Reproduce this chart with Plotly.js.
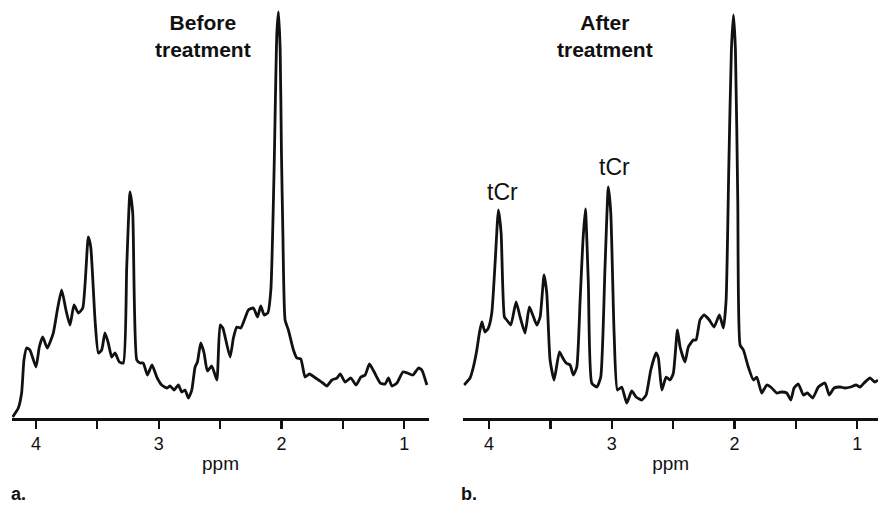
<!DOCTYPE html>
<html>
<head>
<meta charset="utf-8">
<script src="https://cdn.plot.ly/plotly-3.0.1.min.js"></script>
<style>html,body{margin:0;padding:0;background:#fff;}#chart{width:878px;height:506px;}</style>
</head>
<body>
<div id="chart"></div>
<script>
// Panel a: before treatment (chemical shift in ppm, signal in arbitrary units)
const ppmBefore = [4.190,4.144,4.117,4.098,4.076,4.049,4.000,3.973,3.945,3.908,3.859,3.826,3.791,3.756,3.723,3.690,3.655,3.619,3.574,3.554,3.519,3.492,3.465,3.438,3.411,3.383,3.356,3.321,3.289,3.261,3.234,3.212,3.179,3.152,3.126,3.093,3.055,3.016,2.976,2.935,2.908,2.875,2.840,2.813,2.786,2.759,2.731,2.704,2.685,2.658,2.631,2.604,2.568,2.527,2.500,2.478,2.419,2.392,2.364,2.332,2.297,2.270,2.229,2.196,2.169,2.142,2.112,2.087,2.060,2.050,2.038,2.025,2.011,2.001,1.989,1.971,1.944,1.903,1.875,1.843,1.808,1.773,1.734,1.699,1.663,1.631,1.590,1.549,1.522,1.482,1.435,1.392,1.354,1.319,1.284,1.245,1.196,1.156,1.129,1.101,1.060,1.011,0.974,0.930,0.884,0.857,0.816];
const signalBefore = [1,10,25,58,70,68,51,71,81,70,85,108,128,108,93,113,105,110,181,171,98,65,68,85,75,61,65,56,55,151,226,205,58,55,55,43,53,41,33,30,32,28,33,26,28,20,28,51,56,75,65,47,52,38,93,90,61,80,91,90,100,108,110,101,112,103,105,128,251,318,385,406,368,268,185,98,88,68,60,59,41,44,41,38,35,32,38,40,44,36,40,33,41,43,54,46,35,34,40,32,35,46,45,43,50,48,33];

// Panel b: after treatment
const ppmAfter = [4.204,4.155,4.128,4.100,4.079,4.059,4.033,4.006,3.978,3.951,3.924,3.902,3.875,3.856,3.823,3.780,3.747,3.707,3.672,3.644,3.611,3.584,3.552,3.530,3.503,3.470,3.427,3.399,3.372,3.340,3.313,3.285,3.258,3.236,3.215,3.191,3.163,3.122,3.090,3.055,3.028,3.008,2.981,2.954,2.919,2.878,2.837,2.802,2.756,2.720,2.682,2.639,2.620,2.592,2.557,2.525,2.498,2.465,2.443,2.403,2.376,2.335,2.313,2.281,2.248,2.205,2.166,2.123,2.090,2.068,2.046,2.025,2.008,1.992,1.973,1.954,1.927,1.887,1.846,1.818,1.778,1.737,1.696,1.655,1.615,1.574,1.541,1.514,1.479,1.438,1.406,1.362,1.316,1.262,1.227,1.188,1.139,1.099,1.052,1.009,0.976,0.944,0.895,0.855,0.830];
const signalAfter = [33,40,51,68,85,96,86,90,105,155,208,185,101,98,93,116,101,85,111,103,93,101,143,125,58,38,66,60,55,53,43,51,118,175,209,135,35,31,41,151,231,205,85,28,31,15,27,21,18,23,48,65,60,28,41,38,45,88,71,56,71,78,78,98,103,98,91,103,90,118,251,368,403,368,218,73,68,51,38,41,25,33,30,25,26,25,18,30,34,23,25,20,31,35,23,30,31,30,31,33,31,35,40,36,38];

const tickValues = [4, 3.5, 3, 2.5, 2, 1.5, 1];
const tickLabels = ['4', '', '3', '', '2', '', '1'];
const panelTitles = ['Before<br>treatment', 'After<br>treatment'];
const peakLabel = 'tCr';
const panelLetters = ['a.', 'b.'];
const axisTitle = 'ppm';

const FONT = 'Liberation Sans, Arial, Helvetica, sans-serif';
const lineStyle = {color: '#111111', width: 2.8, shape: 'spline', smoothing: 0.5};

const traces = [
  {x: ppmBefore, y: signalBefore, xaxis: 'x', yaxis: 'y', type: 'scatter', mode: 'lines', line: lineStyle, hoverinfo: 'skip'},
  {x: ppmAfter, y: signalAfter, xaxis: 'x2', yaxis: 'y2', type: 'scatter', mode: 'lines', line: lineStyle, hoverinfo: 'skip'}
];

function xAxis(domain, range, anchor) {
  return {
    domain: domain, range: range, anchor: anchor,
    showline: true, linecolor: '#111111', linewidth: 2.6,
    ticks: 'outside', ticklen: 8, tickwidth: 2.2, tickcolor: '#111111',
    tickvals: tickValues, ticktext: tickLabels,
    tickfont: {family: FONT, size: 18, color: '#111111'},
    showgrid: false, zeroline: false,
    title: {text: axisTitle, font: {family: FONT, size: 19, color: '#111111'}, standoff: 4}
  };
}
function yAxis(anchor) {
  return {domain: [0.1739, 1], range: [0, 418], anchor: anchor, visible: false, showgrid: false, zeroline: false};
}

const letterFont = {family: 'Liberation Sans Narrow, ' + FONT, size: 18, color: '#111111'};

const layout = {
  width: 878, height: 506,
  margin: {l: 0, r: 0, t: 0, b: 0},
  paper_bgcolor: '#ffffff', plot_bgcolor: '#ffffff',
  showlegend: false,
  xaxis: xAxis([0.0133, 0.4890], [4.198, 0.796], 'y'),
  yaxis: yAxis('x'),
  xaxis2: xAxis([0.5277, 1], [4.21, 0.83], 'y2'),
  yaxis2: yAxis('x2'),
  annotations: [
    {text: '<b>' + panelTitles[0] + '</b>', xref: 'paper', yref: 'paper', x: 203/878, y: 1 - 35.5/506, showarrow: false, xanchor: 'center', yanchor: 'middle', font: {family: FONT, size: 21, color: '#111111'}},
    {text: '<b>' + panelTitles[1] + '</b>', xref: 'paper', yref: 'paper', x: 605/878, y: 1 - 35.5/506, showarrow: false, xanchor: 'center', yanchor: 'middle', font: {family: FONT, size: 21, color: '#111111'}},
    {text: peakLabel, xref: 'paper', yref: 'paper', x: 502/878, y: 1 - 192/506, showarrow: false, xanchor: 'center', yanchor: 'middle', font: {family: FONT, size: 23, color: '#111111'}},
    {text: peakLabel, xref: 'paper', yref: 'paper', x: 614/878, y: 1 - 167/506, showarrow: false, xanchor: 'center', yanchor: 'middle', font: {family: FONT, size: 23, color: '#111111'}},
    {text: '<b>' + panelLetters[0] + '</b>', xref: 'paper', yref: 'paper', x: 18/878, y: 0.002, showarrow: false, xanchor: 'center', yanchor: 'bottom', borderpad: 0, font: letterFont},
    {text: '<b>' + panelLetters[1] + '</b>', xref: 'paper', yref: 'paper', x: 469/878, y: 0.002, showarrow: false, xanchor: 'center', yanchor: 'bottom', borderpad: 0, font: letterFont}
  ]
};

Plotly.newPlot('chart', traces, layout, {staticPlot: true, displayModeBar: false});
</script>
</body>
</html>
